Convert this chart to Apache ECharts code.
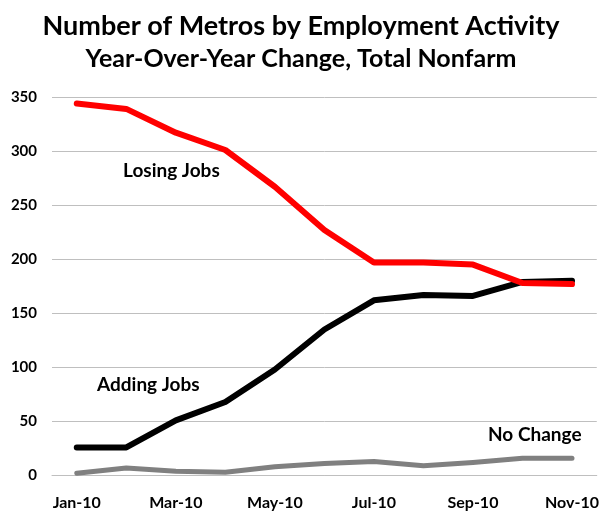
<!DOCTYPE html>
<html>
<head>
<meta charset="utf-8">
<script src="https://cdn.jsdelivr.net/npm/echarts@6/dist/echarts.min.js"></script>
<style>html,body{margin:0;padding:0;background:#fff;}#c{width:602px;height:512px;}</style>
</head>
<body>
<div id="c"></div>
<script>
var categories = ['Jan-10','Feb-10','Mar-10','Apr-10','May-10','Jun-10','Jul-10','Aug-10','Sep-10','Oct-10','Nov-10'];
var losingJobs = [344, 339, 317, 301, 267, 227, 197, 197, 195, 178, 177];
var addingJobs = [26, 26, 51, 68, 98, 135, 162, 167, 166, 179, 180];
var noChange = [2, 7, 4, 3, 8, 11, 13, 9, 12, 16, 16];
var yTicks = [0, 50, 100, 150, 200, 250, 300, 350];

var FONT = 'Lato';
var chart = echarts.init(document.getElementById('c'), null, {renderer: 'canvas'});
chart.setOption({
  animation: false,
  backgroundColor: '#fff',
  title: [
    {text: 'Number of Metros by Employment Activity', left: 'center', top: 8,
     textStyle: {fontFamily: FONT, fontWeight: 'bold', fontSize: 27, color: '#000'}},
    {text: 'Year-Over-Year Change, Total Nonfarm', left: 'center', top: 41,
     textStyle: {fontFamily: FONT, fontWeight: 'bold', fontSize: 25, color: '#000'}}
  ],
  grid: {left: 52, right: 5, top: 97, bottom: 36.5},
  xAxis: {
    type: 'category', data: categories, boundaryGap: true,
    axisLine: {show: true, lineStyle: {color: '#BFBFBF', width: 1}},
    axisTick: {show: false},
    axisLabel: {interval: 1, margin: 19, fontFamily: FONT, fontWeight: 'bold', fontSize: 16, color: '#000'}
  },
  yAxis: {
    type: 'value', min: yTicks[0], max: yTicks[yTicks.length-1], interval: 50,
    axisLine: {show: false}, axisTick: {show: false},
    splitLine: {lineStyle: {color: '#BFBFBF', width: 1}},
    axisLabel: {margin: 15, fontFamily: FONT, fontWeight: 'bold', fontSize: 15, color: '#000'}
  },
  series: [
    {name: 'No Change', type: 'line', data: noChange, symbol: 'none',
     lineStyle: {color: '#808080', width: 5, cap: 'round', join: 'round'}, z: 2},
    {name: 'Adding Jobs', type: 'line', data: addingJobs, symbol: 'none',
     lineStyle: {color: '#000000', width: 6, cap: 'round', join: 'round'}, z: 3},
    {name: 'Losing Jobs', type: 'line', data: losingJobs, symbol: 'none',
     lineStyle: {color: '#FF0000', width: 6, cap: 'round', join: 'round'}, z: 4}
  ],
  graphic: [
    {type: 'text', left: 123, top: 161, z: 10,
     style: {text: 'Losing Jobs', font: 'bold 19px ' + FONT, fill: '#000'}},
    {type: 'text', left: 97, top: 375, z: 10,
     style: {text: 'Adding Jobs', font: 'bold 19px ' + FONT, fill: '#000'}},
    {type: 'text', left: 485, top: 423, z: 10,
     style: {text: 'No Change', font: 'bold 19px ' + FONT, fill: '#000',
             backgroundColor: '#fff', padding: [2, 3, 2, 3]}}
  ]
});
</script>
</body>
</html>
